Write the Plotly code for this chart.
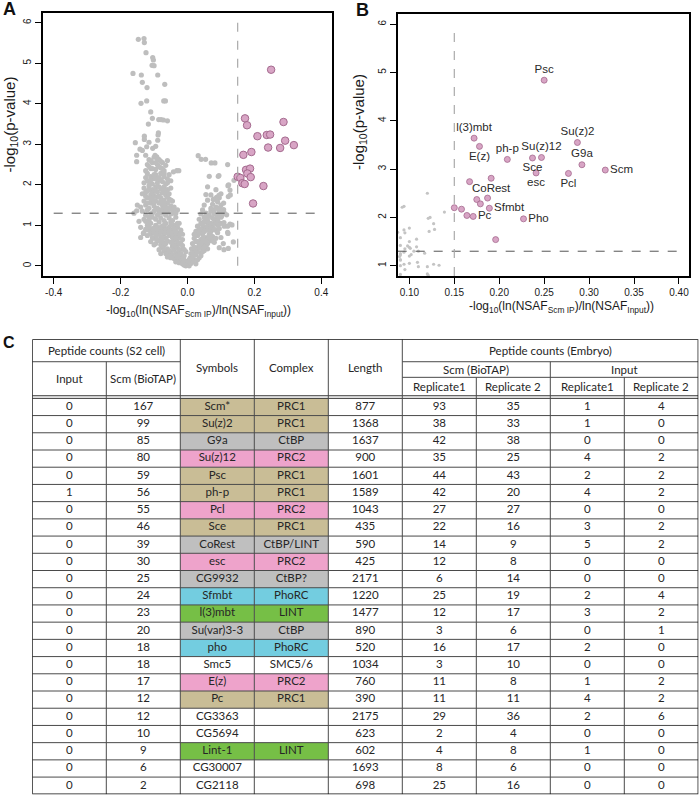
import plotly.graph_objects as go

W, H = 700, 795

# ---------------- volcano data ----------------
sig_x = [0.250, 0.172, 0.178, 0.209, 0.237, 0.247, 0.241, 0.287, 0.292, 0.277,
         0.318, 0.191, 0.167, 0.175, 0.187, 0.179, 0.189, 0.150, 0.158, 0.164,
         0.171, 0.227, 0.196]
sig_y = [4.84, 3.64, 3.47, 3.20, 3.23, 3.24, 2.92, 3.55, 3.09, 2.91,
         2.98, 2.81, 2.74, 2.37, 2.40, 2.28, 2.19, 2.20, 2.17, 2.04,
         2.02, 1.97, 1.54]
sig_labels = ["Psc", "l(3)mbt", "E(z)", "ph-p", "Sce", "Su(z)12", "esc", "Su(z)2", "G9a", "Pcl",
              "Scm", "CoRest", "", "", "", "", "Sfmbt", "", "", "",
              "Pc", "Pho", ""]
sig_label_side = ["top center", "top center", "bottom center", "top center", "bottom center",
                  "top center", "bottom center", "top center", "top center", "bottom center",
                  "middle right", "bottom center", "", "", "",
                  "", "middle right", "", "", "",
                  "middle right", "middle right", ""]

gray_points = [
    # bottom of the V
    (-0.03, 0.15), (-0.025, 0.08), (-0.02, 0.12), (-0.015, 0.05), (-0.01, 0.02), (-0.005, 0.0),
    (0.0, 0.03), (0.005, 0.0), (0.01, 0.06), (-0.035, 0.2), (-0.008, 0.1), (0.015, 0.1),
    (0.02, 0.16), (-0.04, 0.18), (-0.02, 0.2), (0.0, 0.12), (0.008, 0.2), (-0.012, 0.17),
    (-0.06, 0.3), (-0.045, 0.22), (-0.035, 0.1), (0.025, 0.05), (-0.025, 0.28), (0.005, 0.15),
    # left arm 0.2-0.5
    (-0.075, 0.45), (-0.07, 0.38), (-0.065, 0.3), (-0.06, 0.42), (-0.055, 0.25), (-0.05, 0.35),
    (-0.045, 0.48), (-0.045, 0.28), (-0.04, 0.4), (-0.035, 0.32), (-0.03, 0.45), (-0.03, 0.25),
    (-0.025, 0.38), (-0.02, 0.3), (-0.015, 0.42), (-0.01, 0.25), (-0.06, 0.22), (-0.08, 0.3),
    (-0.005, 0.35), (-0.05, 0.2), (-0.085, 0.4), (-0.07, 0.5), (-0.055, 0.38), (-0.01, 0.4),
    # right arm 0.2-0.5
    (0.01, 0.3), (0.015, 0.22), (0.02, 0.35), (0.025, 0.28), (0.03, 0.42), (0.035, 0.2),
    (0.04, 0.32), (0.045, 0.45), (0.03, 0.15), (0.05, 0.38), (0.055, 0.48), (0.025, 0.45),
    (0.04, 0.25), (0.012, 0.42), (0.06, 0.42), (0.015, 0.3), (0.02, 0.45), (0.03, 0.35),
    (0.035, 0.45), (0.045, 0.35), (0.05, 0.48),
    # left arm 0.5-0.8
    (-0.12, 0.75), (-0.11, 0.6), (-0.1, 0.68), (-0.095, 0.55), (-0.09, 0.78), (-0.085, 0.62),
    (-0.08, 0.52), (-0.08, 0.72), (-0.075, 0.6), (-0.07, 0.78), (-0.065, 0.55), (-0.065, 0.68),
    (-0.06, 0.62), (-0.055, 0.75), (-0.05, 0.58), (-0.045, 0.7), (-0.04, 0.52), (-0.04, 0.65),
    (-0.035, 0.78), (-0.03, 0.6), (-0.025, 0.7), (-0.02, 0.55), (-0.015, 0.65), (-0.1, 0.52),
    (-0.09, 0.65), (-0.14, 0.7), (-0.132, 0.8), (-0.045, 0.6), (-0.035, 0.5), (-0.025, 0.55),
    (-0.015, 0.5), (-0.095, 0.72), (-0.085, 0.8), (-0.075, 0.7), (-0.045, 0.78), (-0.035, 0.7),
    (-0.025, 0.8), (-0.015, 0.78), (-0.11, 0.8), (-0.105, 0.7),
    # right arm 0.5-0.8
    (0.015, 0.55), (0.02, 0.68), (0.025, 0.6), (0.03, 0.75), (0.035, 0.52), (0.04, 0.65),
    (0.045, 0.78), (0.05, 0.58), (0.055, 0.7), (0.06, 0.55), (0.065, 0.78), (0.07, 0.62),
    (0.075, 0.72), (0.08, 0.58), (0.02, 0.78), (0.06, 0.66), (0.1, 0.7), (0.095, 0.45),
    (0.03, 0.6), (0.04, 0.55), (0.045, 0.68), (0.055, 0.62), (0.065, 0.7), (0.07, 0.75),
    (0.075, 0.62), (0.085, 0.68),
    # left arm 0.8-1.1
    (-0.14, 0.95), (-0.13, 0.82), (-0.12, 1.0), (-0.115, 0.88), (-0.11, 1.05), (-0.105, 0.92),
    (-0.1, 0.82), (-0.095, 1.0), (-0.09, 0.9), (-0.085, 1.08), (-0.08, 0.85), (-0.075, 0.98),
    (-0.07, 0.9), (-0.065, 1.05), (-0.06, 0.82), (-0.055, 0.95), (-0.05, 1.08), (-0.045, 0.88),
    (-0.04, 1.0), (-0.035, 0.85), (-0.03, 0.95), (-0.025, 1.05), (-0.02, 0.88), (-0.145, 1.1),
    (-0.1, 0.92), (-0.09, 0.95), (-0.08, 0.95), (-0.07, 1.0), (-0.06, 0.92), (-0.05, 1.0),
    (-0.04, 0.92), (-0.03, 1.05), (-0.125, 0.9), (-0.115, 0.95), (-0.065, 0.88), (-0.055, 0.85),
    # right arm 0.8-1.1
    (0.025, 0.85), (0.03, 0.98), (0.035, 0.9), (0.04, 1.05), (0.045, 0.85), (0.05, 0.95),
    (0.055, 1.08), (0.06, 0.88), (0.065, 1.0), (0.07, 0.85), (0.075, 0.95), (0.08, 1.05),
    (0.085, 0.88), (0.09, 1.0), (0.095, 0.92), (0.045, 1.0), (0.035, 0.82), (0.04, 0.9),
    (0.05, 0.85), (0.06, 0.98), (0.07, 0.95), (0.08, 0.9), (0.09, 0.82),
    # left arm 1.1-1.4
    (-0.16, 1.3), (-0.135, 1.35), (-0.13, 1.15), (-0.125, 1.25), (-0.12, 1.38), (-0.115, 1.12),
    (-0.11, 1.28), (-0.105, 1.2), (-0.1, 1.35), (-0.095, 1.15), (-0.09, 1.25), (-0.085, 1.38),
    (-0.08, 1.18), (-0.075, 1.3), (-0.07, 1.12), (-0.065, 1.25), (-0.06, 1.35), (-0.055, 1.18),
    (-0.05, 1.28), (-0.045, 1.12), (-0.04, 1.3), (-0.035, 1.2), (-0.03, 1.38), (-0.152, 1.36),
    (-0.125, 1.1), (-0.115, 1.2), (-0.105, 1.3), (-0.095, 1.4), (-0.085, 1.3), (-0.075, 1.4),
    (-0.065, 1.35), (-0.055, 1.42), (-0.045, 1.38), (-0.035, 1.3),
    # right arm 1.1-1.4
    (0.035, 1.15), (0.04, 1.28), (0.045, 1.38), (0.05, 1.2), (0.055, 1.3), (0.06, 1.12),
    (0.065, 1.25), (0.07, 1.35), (0.075, 1.18), (0.08, 1.28), (0.085, 1.15), (0.09, 1.25),
    (0.095, 1.35), (0.1, 1.2), (0.105, 1.3), (0.07, 1.42), (0.05, 1.1), (0.06, 1.2),
    (0.07, 1.05), (0.08, 1.15), (0.09, 1.12), (0.1, 1.05), (0.08, 1.38), (0.09, 1.42),
    (0.1, 1.38), (0.11, 1.3),
    # left arm 1.4-1.7
    (-0.14, 1.45), (-0.13, 1.6), (-0.125, 1.5), (-0.12, 1.68), (-0.115, 1.42), (-0.11, 1.55),
    (-0.105, 1.65), (-0.1, 1.48), (-0.095, 1.6), (-0.09, 1.42), (-0.085, 1.55), (-0.08, 1.68),
    (-0.075, 1.5), (-0.07, 1.62), (-0.065, 1.45), (-0.06, 1.55), (-0.055, 1.65), (-0.05, 1.48),
    (-0.045, 1.6), (-0.04, 1.45), (-0.15, 1.5), (-0.12, 1.55), (-0.11, 1.65), (-0.1, 1.58),
    (-0.09, 1.7), (-0.08, 1.6), (-0.07, 1.52), (-0.06, 1.7), (-0.05, 1.62),
    # right 1.4-1.7
    (0.05, 1.5), (0.06, 1.62), (0.075, 1.52), (0.08, 1.65), (0.09, 1.58), (0.1, 1.5),
    (0.085, 1.45), (0.095, 1.68),
    # left arm 1.7-2.0
    (-0.135, 1.78), (-0.13, 1.92), (-0.125, 1.72), (-0.12, 1.85), (-0.115, 1.98), (-0.11, 1.75),
    (-0.105, 1.88), (-0.1, 1.72), (-0.095, 1.95), (-0.09, 1.82), (-0.085, 1.72), (-0.08, 1.9),
    (-0.075, 1.8), (-0.07, 1.95), (-0.065, 1.75), (-0.06, 1.88), (-0.055, 1.78), (-0.05, 1.92),
    (-0.125, 1.82), (-0.115, 1.88), (-0.105, 1.8), (-0.095, 1.85), (-0.085, 1.95), (-0.075, 1.9),
    (-0.065, 1.85),
    # right 1.7-2.0
    (0.055, 1.76), (0.07, 1.75), (0.087, 1.69), (0.1, 1.78), (0.085, 1.88), (0.06, 1.95),
    (0.121, 1.98), (0.127, 1.87), (0.077, 1.64),
    # left arm 2.0-2.3
    (-0.13, 2.05), (-0.125, 2.18), (-0.12, 2.28), (-0.115, 2.08), (-0.11, 2.2), (-0.105, 2.02),
    (-0.1, 2.15), (-0.095, 2.25), (-0.09, 2.05), (-0.085, 2.18), (-0.08, 2.28), (-0.075, 2.08),
    (-0.07, 2.2), (-0.065, 2.02), (-0.06, 2.15), (-0.055, 2.25), (-0.05, 2.1), (-0.12, 2.1),
    (-0.11, 2.12), (-0.1, 2.25), (-0.09, 2.15), (-0.08, 2.12), (-0.07, 2.28), (-0.06, 2.05),
    # right 2.0-2.3
    (0.065, 2.21), (0.092, 2.21),
    # left arm 2.3-2.8
    (-0.125, 2.35), (-0.12, 2.5), (-0.115, 2.62), (-0.11, 2.4), (-0.105, 2.55), (-0.1, 2.68),
    (-0.095, 2.38), (-0.09, 2.5), (-0.085, 2.62), (-0.08, 2.42), (-0.075, 2.55), (-0.07, 2.35),
    (-0.065, 2.48), (-0.06, 2.6), (-0.042, 2.32), (-0.032, 2.35), (-0.026, 2.35), (-0.152, 2.57),
    (-0.097, 2.73), (-0.092, 2.69), (-0.125, 2.73), (-0.152, 2.73), (-0.115, 2.45), (-0.105, 2.4),
    (-0.095, 2.55), (-0.085, 2.45), (-0.075, 2.4), (-0.11, 2.6), (-0.09, 2.65), (-0.08, 2.58),
    # right 2.3-2.8
    (0.032, 2.72), (0.041, 2.63), (0.054, 2.63), (0.071, 2.54), (0.082, 2.54),
    # left upper sparse
    (-0.142, 2.88), (-0.122, 2.94), (-0.104, 2.9), (-0.156, 3.04), (-0.089, 3.1), (-0.129, 3.2),
    (-0.129, 3.12), (-0.088, 3.23), (-0.087, 3.28), (-0.117, 3.5), (-0.072, 3.6), (-0.079, 3.61),
    (-0.086, 3.61), (-0.06, 3.58), (-0.105, 3.64), (-0.11, 3.8), (-0.095, 2.95), (-0.115, 3.05),
    (-0.135, 2.85),
    # top
    (-0.122, 4.07), (-0.139, 4.01), (-0.071, 4.07), (-0.066, 4.07), (-0.121, 4.4), (-0.068, 4.48),
    (-0.135, 4.53), (-0.163, 4.75), (-0.138, 4.71), (-0.089, 4.71), (-0.106, 4.95), (-0.1, 4.94),
    (-0.104, 5.14), (-0.102, 5.08), (-0.124, 5.26), (-0.129, 5.51), (-0.13, 5.61), (-0.147, 5.59),
    # lower right scattered
    (0.109, 1.07), (0.127, 1.03), (0.121, 0.8), (0.107, 0.55), (0.109, 0.4), (0.122, 0.43),
    (0.137, 0.59),
    # points also visible in the zoomed panel
    (0.120, 2.50), (0.094, 2.23), (0.123, 2.00), (0.139, 2.11), (0.094, 1.74), (0.122, 1.71),
    (0.128, 1.75), (0.108, 1.55), (0.108, 1.39), (0.098, 1.41), (0.101, 1.36), (0.117, 1.26),
    (0.094, 1.28), (0.102, 1.23), (0.090, 1.22), (0.089, 1.19), (0.094, 1.03), (0.110, 0.98),
    (0.120, 0.98), (0.133, 1.01), (0.120, 0.83), (0.090, 1.12),
]
gray_x = [p[0] for p in gray_points]
gray_y = [p[1] for p in gray_points]

fc_cut = 0.15
p_cut = 1.3

# ---------------- table data ----------------
s2_input = [0, 0, 0, 0, 0, 1, 0, 0, 0, 0, 0, 0, 0, 0, 0, 0, 0, 0, 0, 0, 0, 0, 0]
s2_scm = [167, 99, 85, 80, 59, 56, 55, 46, 39, 30, 25, 24, 23, 20, 18, 18, 17, 12, 12, 10, 9, 6, 2]
symbols = ["Scm*", "Su(z)2", "G9a", "Su(z)12", "Psc", "ph-p", "Pcl", "Sce", "CoRest", "esc",
           "CG9932", "Sfmbt", "l(3)mbt", "Su(var)3-3", "pho", "Smc5", "E(z)", "Pc", "CG3363",
           "CG5694", "Lint-1", "CG30007", "CG2118"]
complexes = ["PRC1", "PRC1", "CtBP", "PRC2", "PRC1", "PRC1", "PRC2", "PRC1", "CtBP/LINT", "PRC2",
             "CtBP?", "PhoRC", "LINT", "CtBP", "PhoRC", "SMC5/6", "PRC2", "PRC1", "", "", "LINT", "", ""]
lengths = [877, 1368, 1637, 900, 1601, 1589, 1043, 435, 590, 425, 2171, 1220, 1477, 890, 520, 1034,
           760, 390, 2175, 623, 602, 1693, 698]
emb_scm_rep1 = [93, 38, 42, 35, 44, 42, 27, 22, 14, 12, 6, 25, 12, 3, 16, 3, 11, 11, 29, 2, 4, 8, 25]
emb_scm_rep2 = [35, 33, 38, 25, 43, 20, 27, 16, 9, 8, 14, 19, 17, 6, 17, 10, 8, 11, 36, 4, 8, 6, 16]
emb_in_rep1 = [1, 1, 0, 4, 2, 4, 0, 3, 5, 0, 0, 2, 3, 0, 2, 0, 1, 4, 2, 0, 1, 0, 0]
emb_in_rep2 = [4, 0, 0, 2, 2, 2, 0, 2, 2, 0, 0, 4, 2, 1, 0, 0, 2, 2, 6, 0, 0, 0, 0]

complex_colors = {"PRC1": "#c9bd96", "PRC2": "#eea3cb", "CtBP": "#bfbfbf", "CtBP/LINT": "#bfbfbf",
                  "CtBP?": "#bfbfbf", "PhoRC": "#73cde0", "LINT": "#76bf46"}

# ---------------- figure ----------------
fig = go.Figure()

PINK = "#d8a5c5"
PINK_LINE = "#a46a8e"
GRAY = "#bebebe"

lab_idx = [i for i, s in enumerate(sig_labels) if s]
unl_idx = [i for i, s in enumerate(sig_labels) if not s]

# Panel A
fig.add_trace(go.Scatter(x=gray_x, y=gray_y, mode="markers", xaxis="x", yaxis="y",
                         marker=dict(size=5.2, color=GRAY), hoverinfo="skip"))
fig.add_trace(go.Scatter(x=sig_x, y=sig_y, mode="markers", xaxis="x", yaxis="y",
                         marker=dict(size=7.5, color=PINK, line=dict(color=PINK_LINE, width=1)),
                         hoverinfo="skip"))
# Panel B
fig.add_trace(go.Scatter(x=gray_x, y=gray_y, mode="markers", xaxis="x2", yaxis="y2",
                         marker=dict(size=3.2, color="#c4c4c4"), hoverinfo="skip"))
fig.add_trace(go.Scatter(x=[sig_x[i] for i in unl_idx], y=[sig_y[i] for i in unl_idx],
                         mode="markers", xaxis="x2", yaxis="y2",
                         marker=dict(size=6, color=PINK, line=dict(color=PINK_LINE, width=0.8)),
                         hoverinfo="skip"))
fig.add_trace(go.Scatter(x=[sig_x[i] for i in lab_idx], y=[sig_y[i] for i in lab_idx],
                         mode="markers+text", xaxis="x2", yaxis="y2",
                         text=[sig_labels[i] for i in lab_idx],
                         textposition=[sig_label_side[i] for i in lab_idx],
                         textfont=dict(family="Liberation Sans, Arial", size=11.5, color="#2a2a2a"),
                         marker=dict(size=6, color=PINK, line=dict(color=PINK_LINE, width=0.8)),
                         hoverinfo="skip"))

shapes = []
# threshold lines A
shapes.append(dict(type="line", xref="x", yref="y", x0=-0.4, x1=0.4, y0=p_cut, y1=p_cut,
                   line=dict(color="#555555", width=1, dash="dash")))
shapes.append(dict(type="line", xref="x", yref="y", x0=fc_cut, x1=fc_cut, y0=0, y1=6,
                   line=dict(color="#aaaaaa", width=1.2, dash="dash")))
# threshold lines B
b_xmin, b_xmax = 0.087, 0.4115
b_ymin, b_ymax = 0.787, 6.21
shapes.append(dict(type="line", xref="x2", yref="y2", x0=b_xmin, x1=0.4, y0=p_cut, y1=p_cut,
                   line=dict(color="#555555", width=1, dash="dash")))
shapes.append(dict(type="line", xref="x2", yref="y2", x0=fc_cut, x1=fc_cut, y0=b_ymin, y1=6,
                   line=dict(color="#aaaaaa", width=1.2, dash="dash")))

# ---------------- table drawn on its own axes ----------------
ncol = 9
hdr1, hdr2, hdr3 = 22.4, 38.0, 56.4
data_top = 59.0
row_h = 17.2
nrow = len(symbols)
total_h = data_top + nrow * row_h
LINE = "#4a4a4a"

for i, cx in enumerate(complexes):
    if cx in complex_colors:
        for c in (2, 3):
            shapes.append(dict(type="rect", xref="x3", yref="y3", x0=c, x1=c + 1,
                               y0=data_top + i * row_h, y1=data_top + (i + 1) * row_h,
                               fillcolor=complex_colors[cx], line=dict(width=0), layer="below"))

def hline(y, x0, x1, color=LINE, w=1):
    shapes.append(dict(type="line", xref="x3", yref="y3", x0=x0, x1=x1, y0=y, y1=y,
                       line=dict(color=color, width=w)))

def vline(x, y0, y1, color=LINE, w=1):
    shapes.append(dict(type="line", xref="x3", yref="y3", x0=x, x1=x, y0=y0, y1=y1,
                       line=dict(color=color, width=w)))

hline(hdr1, 0, 2)
hline(hdr1, 5, 9)
hline(hdr2, 5, 9)
hline(hdr3, 0, 9, "#333333", 1)
for i in range(nrow):
    hline(data_top + i * row_h, 0, 9, "#333333" if i == 0 else LINE, 1)
v_start = {1: hdr1, 2: 0, 3: 0, 4: 0, 5: 0, 6: hdr2, 7: hdr1, 8: hdr2}
for c in range(1, ncol):
    vline(c, v_start[c], total_h)
shapes.append(dict(type="rect", xref="x3", yref="y3", x0=0, x1=ncol, y0=0, y1=total_h,
                   line=dict(color="#111111", width=1.4)))

columns = [s2_input, s2_scm, symbols, complexes, lengths,
           emb_scm_rep1, emb_scm_rep2, emb_in_rep1, emb_in_rep2]
tx, ty, tt = [], [], []
for c, col in enumerate(columns):
    for i, v in enumerate(col):
        if str(v) == "":
            continue
        tx.append(c + 0.5)
        ty.append(data_top + (i + 0.5) * row_h)
        tt.append(str(v))
TABLE_FONT = dict(family="Lato, Carlito, Calibri", size=11.5, color="#262626")
fig.add_trace(go.Scatter(x=tx, y=ty, text=tt, mode="text", xaxis="x3", yaxis="y3",
                         textfont=TABLE_FONT, hoverinfo="skip", cliponaxis=False))

header_cells = [
    ("Peptide counts (S2 cell)", 0, 2, 0, hdr1),
    ("Input", 0, 1, hdr1, hdr3),
    ("Scm (BioTAP)", 1, 2, hdr1, hdr3),
    ("Symbols", 2, 3, 0, hdr3),
    ("Complex", 3, 4, 0, hdr3),
    ("Length", 4, 5, 0, hdr3),
    ("Peptide counts (Embryo)", 5, 9, 0, hdr1),
    ("Scm (BioTAP)", 5, 7, hdr1, hdr2),
    ("Input", 7, 9, hdr1, hdr2),
    ("Replicate1", 5, 6, hdr2, hdr3),
    ("Replicate 2", 6, 7, hdr2, hdr3),
    ("Replicate1", 7, 8, hdr2, hdr3),
    ("Replicate 2", 8, 9, hdr2, hdr3),
]
annotations = []
for text, x0, x1, y0, y1 in header_cells:
    annotations.append(dict(text=text, xref="x3", yref="y3", x=(x0 + x1) / 2, y=(y0 + y1) / 2,
                            showarrow=False, font=TABLE_FONT, xanchor="center", yanchor="middle"))

AX_FONT = dict(family="Liberation Sans, Arial", color="#1a1a1a")
xt = "-log<sub>10</sub>(ln(NSAF<sub>Scm IP</sub>)/ln(NSAF<sub>Input</sub>))"
yt = "-log<sub>10</sub>(p-value)"
annotations += [
    dict(text=xt, xref="paper", yref="paper", x=198 / W, y=1 - 311 / H, showarrow=False,
         font=dict(size=12, **AX_FONT), xanchor="center", yanchor="middle"),
    dict(text=xt, xref="paper", yref="paper", x=561 / W, y=1 - 307 / H, showarrow=False,
         font=dict(size=12, **AX_FONT), xanchor="center", yanchor="middle"),
    dict(text=yt, xref="paper", yref="paper", x=10.5 / W, y=1 - 125 / H, showarrow=False,
         font=dict(size=15, **AX_FONT), xanchor="center", yanchor="middle", textangle=-90),
    dict(text=yt, xref="paper", yref="paper", x=360 / W, y=1 - 122 / H, showarrow=False,
         font=dict(size=15, **AX_FONT), xanchor="center", yanchor="middle", textangle=-90),
    dict(text="<b>A</b>", xref="paper", yref="paper", x=9 / W, y=1 - 9 / H, showarrow=False,
         font=dict(size=18, family="Liberation Sans, Arial", color="#111"), xanchor="center", yanchor="middle"),
    dict(text="<b>B</b>", xref="paper", yref="paper", x=362 / W, y=1 - 10 / H, showarrow=False,
         font=dict(size=18, family="Liberation Sans, Arial", color="#111"), xanchor="center", yanchor="middle"),
    dict(text="<b>C</b>", xref="paper", yref="paper", x=9 / W, y=1 - 342 / H, showarrow=False,
         font=dict(size=16, family="Liberation Sans, Arial", color="#111"), xanchor="center", yanchor="middle"),
]

axis_common = dict(showgrid=False, zeroline=False, showline=True, mirror=True, linecolor="black",
                   linewidth=2, ticks="outside", ticklen=6, tickcolor="black", tickwidth=1,
                   tickfont=dict(size=10, family="Liberation Sans, Arial", color="#1a1a1a"))

fig.update_layout(
    width=W, height=H, margin=dict(l=0, r=0, t=0, b=0),
    paper_bgcolor="white", plot_bgcolor="white", showlegend=False,
    xaxis=dict(domain=[43 / W, 332 / W], range=[-0.432, 0.432],
               tickvals=[-0.4, -0.2, 0.0, 0.2, 0.4], ticktext=["-0.4", "-0.2", "0.0", "0.2", "0.4"],
               anchor="y", **axis_common),
    yaxis=dict(domain=[1 - 276 / H, 1 - 13 / H], range=[-0.25, 6.24], tickvals=[0, 1, 2, 3, 4, 5, 6],
               tickangle=-90, anchor="x", **axis_common),
    xaxis2=dict(domain=[397.7 / W, 689.3 / W], range=[b_xmin, b_xmax],
                tickvals=[0.10, 0.15, 0.20, 0.25, 0.30, 0.35, 0.40],
                ticktext=["0.10", "0.15", "0.20", "0.25", "0.30", "0.35", "0.40"],
                anchor="y2", **axis_common),
    yaxis2=dict(domain=[1 - 276 / H, 1 - 14 / H], range=[b_ymin, b_ymax], tickvals=[1, 2, 3, 4, 5, 6],
                tickangle=-90, anchor="x2", **axis_common),
    xaxis3=dict(domain=[32.3 / W, 698.3 / W], range=[0, ncol], visible=False, anchor="y3", fixedrange=True),
    yaxis3=dict(domain=[1 - 794.3 / H, 1 - 339.3 / H], range=[total_h, 0], visible=False, anchor="x3",
                fixedrange=True),
    shapes=shapes, annotations=annotations,
)

fig.write_html("out.html", config={"displayModeBar": False},
               post_script="document.body.style.margin='0px';document.body.style.overflow='hidden';")
